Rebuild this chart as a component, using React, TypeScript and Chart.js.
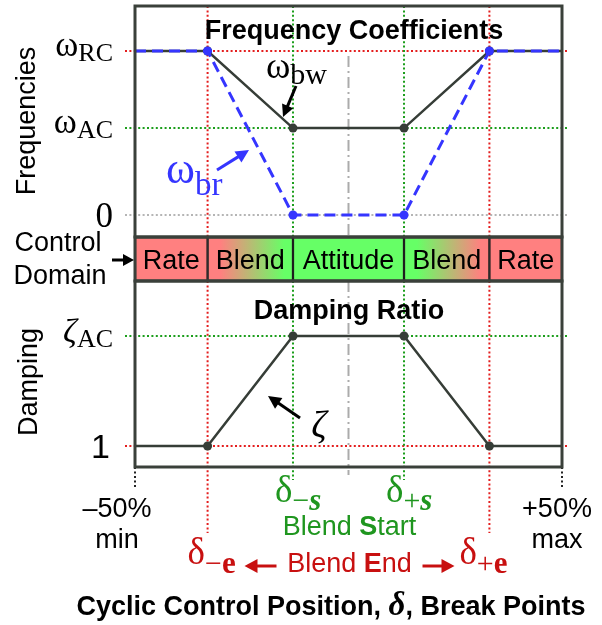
import React, { useEffect, useRef } from 'react';
import { Chart, registerables } from 'chart.js';

Chart.register(...registerables);

// ---- data -------------------------------------------------------------
// cyclic control position break points (percent of travel)
const positions = [-50, -33, -13, 13, 33, 50];
// frequency coefficients (relative to omega_RC = 1)
const omegaBw = [1, 1, 0.53, 0.53, 1, 1];
const omegaBr = [1, 1, 0, 0, 1, 1];
// damping ratio (1 .. zeta_AC = 2)
const zeta = [1, 1, 2, 2, 1, 1];
const markerShown = [false, true, true, true, true, false];

const freqTickValues = [1, 0.53, 0];
const freqTickBase = ['ω', 'ω', '0'];
const freqTickSub = ['RC', 'AC', ''];
const dampTickValues = [2, 1];
const dampTickBase = ['ζ', '1'];
const dampTickSub = ['AC', ''];

const domainLabels = ['Rate', 'Blend', 'Attitude', 'Blend', 'Rate'];
const domainStart = [-50, -33, -13, 13, 33];
const domainEnd = [-33, -13, 13, 33, 50];
const domainFromMode = ['rate', 'rate', 'attitude', 'attitude', 'rate'];
const domainToMode = ['rate', 'attitude', 'attitude', 'rate', 'rate'];

const blendEnd = [-33, 33];
const blendStart = [-13, 13];
const travelLimits = [-50, 50];
const limitText = ['–50%', '+50%'];
const limitSubText = ['min', 'max'];

// ---- styles -------------------------------------------------------------
const SANS = '"Liberation Sans", Arial, sans-serif';
const SERIF = '"Liberation Serif", "Times New Roman", serif';
const RED = '#e41e1e';
const GREEN = '#1c9e1c';
const TXT_RED = '#c81010';
const TXT_GREEN = '#1f961f';
const BLUE = '#3535ff';
const DARK = '#363d37';
const FRAME = '#3a403a';
const GRAY = '#b5b5b5';
const PINK = '#ff8080';
const LIME = '#66ff66';
const modeColor = (m: string) => (m === 'rate' ? PINK : LIME);

function line(ctx: CanvasRenderingContext2D, x1: number, y1: number, x2: number, y2: number, color: string, width: number, dash: number[]) {
  ctx.save();
  ctx.strokeStyle = color;
  ctx.lineWidth = width;
  ctx.setLineDash(dash);
  ctx.beginPath();
  ctx.moveTo(x1, y1);
  ctx.lineTo(x2, y2);
  ctx.stroke();
  ctx.restore();
}

function arrow(ctx: CanvasRenderingContext2D, x1: number, y1: number, x2: number, y2: number, color: string, lw = 3, head = 13, half = 6.5) {
  const a = Math.atan2(y2 - y1, x2 - x1);
  const bx = x2 - head * Math.cos(a);
  const by = y2 - head * Math.sin(a);
  ctx.save();
  ctx.strokeStyle = color;
  ctx.fillStyle = color;
  ctx.lineWidth = lw;
  ctx.setLineDash([]);
  ctx.beginPath();
  ctx.moveTo(x1, y1);
  ctx.lineTo(bx + Math.cos(a), by + Math.sin(a));
  ctx.stroke();
  ctx.beginPath();
  ctx.moveTo(x2, y2);
  ctx.lineTo(bx + half * Math.sin(a), by - half * Math.cos(a));
  ctx.lineTo(bx - half * Math.sin(a), by + half * Math.cos(a));
  ctx.closePath();
  ctx.fill();
  ctx.restore();
}

type Run = { t: string; font: string; dy?: number };
function runs(ctx: CanvasRenderingContext2D, parts: Run[], x: number, y: number, color: string, align: 'left' | 'right' | 'center') {
  ctx.save();
  ctx.fillStyle = color;
  ctx.textAlign = 'left';
  ctx.textBaseline = 'alphabetic';
  const widths = parts.map((p) => {
    ctx.font = p.font;
    return ctx.measureText(p.t).width;
  });
  const total = widths.reduce((s, w) => s + w, 0);
  let cx = align === 'right' ? x - total : align === 'center' ? x - total / 2 : x;
  parts.forEach((p, i) => {
    ctx.font = p.font;
    ctx.fillText(p.t, cx, y + (p.dy || 0));
    cx += widths[i];
  });
  ctx.restore();
  return total;
}

function textAt(ctx: CanvasRenderingContext2D, t: string, x: number, y: number, font: string, color: string, align: CanvasTextAlign = 'center', rot = 0) {
  ctx.save();
  ctx.fillStyle = color;
  ctx.font = font;
  ctx.textAlign = align;
  ctx.textBaseline = rot ? 'middle' : 'alphabetic';
  ctx.translate(x, y);
  if (rot) ctx.rotate(rot);
  ctx.fillText(t, 0, 0);
  ctx.restore();
}

const diagramPlugin = {
  id: 'diagram',
  beforeDatasetsDraw(chart: any) {
    const { ctx, chartArea: ca, scales } = chart;
    const { x, yF, yD } = scales;
    const dot = [2, 2.4];
    const fCol = [RED, GREEN, GRAY];
    freqTickValues.forEach((v, i) => {
      const py = yF.getPixelForValue(v);
      line(ctx, ca.left - 10, py, ca.right + 5, py, fCol[i], 2, dot);
    });
    const dCol = [GREEN, RED];
    dampTickValues.forEach((v, i) => {
      const py = yD.getPixelForValue(v);
      line(ctx, ca.left - 10, py, ca.right + 5, py, dCol[i], 2, dot);
    });
    blendEnd.forEach((v) => {
      const px = x.getPixelForValue(v);
      line(ctx, px, yF.top, px, yF.bottom, RED, 2, dot);
      line(ctx, px, yD.top, px, yD.bottom + 66, RED, 2, dot);
    });
    blendStart.forEach((v) => {
      const px = x.getPixelForValue(v);
      line(ctx, px, yF.top, px, yF.bottom, GREEN, 2, dot);
      line(ctx, px, yD.top, px, yD.bottom + 13, GREEN, 2, dot);
    });
    const cx = x.getPixelForValue(0);
    line(ctx, cx, yF.top + 50, cx, yF.bottom, '#ababab', 2, [11, 4, 2, 4]);
    line(ctx, cx, yD.top, cx, yD.bottom + 8, '#ababab', 2, [11, 4, 2, 4]);
    travelLimits.forEach((v) => {
      const px = x.getPixelForValue(v);
      line(ctx, px, yD.bottom, px, yD.bottom + 21, '#222', 2, [2, 2.5]);
    });
  },
  afterDatasetsDraw(chart: any) {
    const { ctx, chartArea: ca, scales } = chart;
    const { x, yF, yC, yD } = scales;
    ctx.save();
    ctx.strokeStyle = FRAME;
    ctx.lineWidth = 3;
    ctx.setLineDash([]);
    [yF, yC, yD].forEach((s: any) => ctx.strokeRect(ca.left, s.top, ca.right - ca.left, s.bottom - s.top));
    ctx.restore();

    const midC = (yC.top + yC.bottom) / 2;
    domainLabels.forEach((lab, i) => {
      const px = (x.getPixelForValue(domainStart[i]) + x.getPixelForValue(domainEnd[i])) / 2;
      textAt(ctx, lab, px, midC + 9.5, `27px ${SANS}`, '#000');
    });
    textAt(ctx, 'Control', 58, 251, `27px ${SANS}`, '#000');
    textAt(ctx, 'Domain', 60, 284, `27px ${SANS}`, '#000');
    arrow(ctx, 112, midC + 1, ca.left - 1, midC + 1, '#000', 3, 11, 6);

    textAt(ctx, 'Frequencies', 28, 121, `27px ${SANS}`, '#000', 'center', -Math.PI / 2);
    textAt(ctx, 'Damping', 30, 382, `27px ${SANS}`, '#000', 'center', -Math.PI / 2);
    textAt(ctx, 'Frequency Coefficients', 354, 39, `bold 27px ${SANS}`, '#000');
    textAt(ctx, 'Damping Ratio', 349, 319, `bold 27px ${SANS}`, '#000');

    const tickRight = ca.left - 22;
    freqTickValues.forEach((v, i) => {
      const py = yF.getPixelForValue(v);
      if (freqTickSub[i]) {
        runs(ctx, [
          { t: freqTickBase[i], font: `35px ${SERIF}`, dy: 5 },
          { t: freqTickSub[i], font: `26px ${SERIF}`, dy: 10 },
        ], tickRight, py, '#000', 'right');
      } else {
        textAt(ctx, freqTickBase[i], tickRight, py + 12, `35px ${SERIF}`, '#000', 'right');
      }
    });
    dampTickValues.forEach((v, i) => {
      const py = yD.getPixelForValue(v);
      if (dampTickSub[i]) {
        runs(ctx, [
          { t: dampTickBase[i], font: `italic 34px ${SERIF}`, dy: 6 },
          { t: dampTickSub[i], font: `26px ${SERIF}`, dy: 11 },
        ], tickRight, py, '#000', 'right');
      } else {
        textAt(ctx, dampTickBase[i], tickRight - 3, py + 12, `34px ${SANS}`, '#000', 'right');
      }
    });

    runs(ctx, [
      { t: 'ω', font: `37px ${SERIF}` },
      { t: 'bw', font: `30px ${SERIF}`, dy: 6 },
    ], 266, 78, '#000', 'left');
    arrow(ctx, 296, 86, 283, 117, '#000', 3, 12, 6);
    runs(ctx, [
      { t: 'ω', font: `44px ${SERIF}` },
      { t: 'br', font: `33px ${SERIF}`, dy: 12 },
    ], 166, 183, BLUE, 'left');
    arrow(ctx, 217, 170, 249, 150, BLUE, 3, 13, 6.5);
    textAt(ctx, 'ζ', 319, 437, `italic 38px ${SERIF}`, '#000');
    arrow(ctx, 300, 418, 268, 396, '#000', 3, 13, 6.5);

    const base = yD.bottom;
    travelLimits.forEach((v, i) => {
      const px = x.getPixelForValue(v) + (i === 0 ? -18 : -5);
      textAt(ctx, limitText[i], px, base + 50, `27px ${SANS}`, '#000');
      textAt(ctx, limitSubText[i], px, base + 81, `27px ${SANS}`, '#000');
    });
    blendStart.forEach((v, i) => {
      const px = x.getPixelForValue(v) - 18;
      runs(ctx, [
        { t: 'δ', font: `37px ${SERIF}` },
        { t: i === 0 ? '−' : '+', font: `30px ${SERIF}`, dy: 8 },
        { t: 's', font: `bold italic 31px ${SERIF}`, dy: 8 },
      ], px, base + 35, TXT_GREEN, 'left');
    });
    const cx = x.getPixelForValue(0);
    runs(ctx, [
      { t: 'Blend ', font: `27px ${SANS}` },
      { t: 'S', font: `bold 27px ${SANS}` },
      { t: 'tart', font: `27px ${SANS}` },
    ], cx + 1, base + 68, TXT_GREEN, 'center');
    runs(ctx, [
      { t: 'Blend ', font: `27px ${SANS}` },
      { t: 'E', font: `bold 27px ${SANS}` },
      { t: 'nd', font: `27px ${SANS}` },
    ], cx + 1, base + 105, TXT_RED, 'center');
    arrow(ctx, cx - 72, base + 99, cx - 104, base + 99, TXT_RED, 3, 13, 7);
    arrow(ctx, cx + 74, base + 99, cx + 106, base + 99, TXT_RED, 3, 13, 7);
    blendEnd.forEach((v, i) => {
      const px = x.getPixelForValue(v) + (i === 0 ? -20 : -30);
      runs(ctx, [
        { t: 'δ', font: `37px ${SERIF}` },
        { t: i === 0 ? '−' : '+', font: `30px ${SERIF}`, dy: 9 },
        { t: 'e', font: `bold 31px ${SERIF}`, dy: 9 },
      ], px, base + 97, TXT_RED, 'left');
    });
    runs(ctx, [
      { t: 'Cyclic Control Position, ', font: `bold 27px ${SANS}` },
      { t: 'δ', font: `bold italic 33px ${SERIF}` },
      { t: ', Break Points', font: `bold 27px ${SANS}` },
    ], 331, 615, '#000', 'center');
  },
};

export default function App() {
  const ref = useRef<HTMLCanvasElement | null>(null);
  useEffect(() => {
    if (!ref.current) return;
    const pts = (ys: number[]) => positions.map((p, i) => ({ x: p, y: ys[i] }));
    const radii = markerShown.map((m) => (m ? 4.5 : 0));
    const chart = new Chart(ref.current, {
      type: 'line',
      data: {
        datasets: [
          {
            label: 'ω_br',
            data: pts(omegaBr),
            yAxisID: 'yF',
            borderColor: BLUE,
            backgroundColor: BLUE,
            borderWidth: 3,
            borderDash: [11, 6],
            pointRadius: radii,
            pointBackgroundColor: BLUE,
            pointBorderWidth: 0,
            tension: 0,
          },
          {
            label: 'ω_bw',
            data: pts(omegaBw),
            yAxisID: 'yF',
            borderColor: DARK,
            backgroundColor: DARK,
            borderWidth: 2.5,
            pointRadius: radii,
            pointBackgroundColor: DARK,
            pointBorderWidth: 0,
            tension: 0,
          },
          {
            label: 'ζ',
            data: pts(zeta),
            yAxisID: 'yD',
            borderColor: DARK,
            backgroundColor: DARK,
            borderWidth: 2.5,
            pointRadius: radii,
            pointBackgroundColor: DARK,
            pointBorderWidth: 0,
            tension: 0,
          },
          {
            type: 'bar',
            label: 'Control Domain',
            indexAxis: 'y',
            xAxisID: 'x',
            yAxisID: 'yC',
            data: domainStart.map((s, i) => ({ x: [s, domainEnd[i]], y: 'domain' })),
            backgroundColor: (c: any) => {
              const i = c.dataIndex;
              if (i === undefined) return PINK;
              const from = modeColor(domainFromMode[i]);
              const to = modeColor(domainToMode[i]);
              if (from === to) return from;
              const xs = c.chart.scales.x;
              if (!xs) return from;
              const x0 = xs.getPixelForValue(domainStart[i]);
              const x1 = xs.getPixelForValue(domainEnd[i]);
              const g = c.chart.ctx.createLinearGradient(x0, 0, x1, 0);
              g.addColorStop(0, from);
              g.addColorStop(0.15, from);
              g.addColorStop(0.9, to);
              g.addColorStop(1, to);
              return g;
            },
            borderColor: '#1e1e1e',
            borderWidth: 1.5,
            borderSkipped: false,
            barPercentage: 1,
            categoryPercentage: 1,
          } as any,
        ],
      },
      options: {
        animation: false,
        responsive: false,
        devicePixelRatio: 1,
        events: [],
        layout: { padding: { left: 135, right: 40, top: 6, bottom: 158 } },
        plugins: { legend: { display: false }, tooltip: { enabled: false } },
        scales: {
          x: { type: 'linear', min: -50, max: 50, display: false },
          yF: { type: 'linear', axis: 'y', position: 'left', stack: 'main', stackWeight: 231, weight: 3, min: -0.134, max: 1.274, display: false },
          yC: { type: 'category', axis: 'y', position: 'left', stack: 'main', stackWeight: 44, weight: 2, labels: ['domain'], offset: true, display: false },
          yD: { type: 'linear', axis: 'y', position: 'left', stack: 'main', stackWeight: 186, weight: 1, min: 0.809, max: 2.5, display: false },
        } as any,
      },
      plugins: [diagramPlugin],
    } as any);
    return () => chart.destroy();
  }, []);
  return (
    <div style={{ position: 'fixed', left: 0, top: 0, width: 602, height: 625, background: '#fff' }}>
      <canvas ref={ref} width={602} height={625} style={{ width: 602, height: 625, display: 'block' }} />
    </div>
  );
}
